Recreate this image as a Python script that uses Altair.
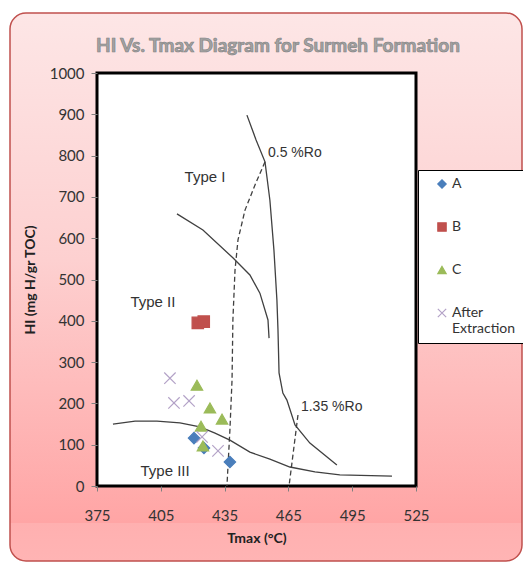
import altair as alt
import pandas as pd

# ---- data ----
SERIES = ["A", "B", "C", "After Extraction"]
A_T = [420.6, 425.3, 437.5]
A_HI = [116, 92, 58]
B_T = [422.4, 425.2]
B_HI = [395, 398]
C_T = [422.0, 428.1, 433.8, 423.9, 424.8]
C_HI = [244, 189, 162, 145, 97]
X_T = [409.3, 411.2, 418.3, 424.4, 431.9]
X_HI = [261, 201, 206, 119, 85]

TYPE1_T = [445.5, 449.8, 454.0, 456.3, 458.2, 459.6, 460.1, 460.6, 462.4, 464.3, 468.1, 475.1, 487.8]
TYPE1_HI = [898, 838, 785, 692, 571, 450, 378, 274, 225, 208, 148, 104, 51]
TYPE2_T = [412.6, 424.8, 439.0, 446.9, 451.6, 455.4, 455.9]
TYPE2_HI = [659, 620, 552, 511, 467, 402, 358]
TYPE3_T = [382.5, 392.9, 403.2, 414.0, 423.4, 430.5, 437.5, 446.9, 456.3, 465.7, 477.5, 489.2, 513.7]
TYPE3_HI = [150, 157, 157, 153, 143, 128, 111, 82, 65, 46, 34, 27, 24]
RO05_T = [454.0, 449.3, 444.6, 441.3, 439.9, 438.9, 438.5, 437.5, 436.1]
RO05_HI = [785, 729, 668, 596, 523, 402, 257, 136, 0]
RO135_T = [469.5, 465.3]
RO135_HI = [172, 0]

TYPE_LABELS = ["Type I", "Type II", "Type III"]
TYPE_LABEL_T = [425.8, 401.3, 407.0]
TYPE_LABEL_HI = [748, 446, 36]
RO_LABELS = ["0.5 %Ro", "1.35 %Ro"]
RO_LABEL_T = [455.4, 470.9]
RO_LABEL_HI = [806, 191]

TITLE = "HI Vs. Tmax Diagram for Surmeh Formation"
X_TICKS = [375, 405, 435, 465, 495, 525]
Y_TICKS = [0, 100, 200, 300, 400, 500, 600, 700, 800, 900, 1000]

COLORS = ["#4a7ebb", "#c0504d", "#9bbb59", "#b3a2c7"]
FILLS = ["#4a7ebb", "#c0504d", "#9bbb59", "transparent"]
SHAPES = ["diamond", "square", "triangle-up", "M-1,-1L1,1M-1,1L1,-1"]

W, H = 319, 413

# ---- tables ----
pts = []
for s, ts, hs in zip(SERIES, [A_T, B_T, C_T, X_T], [A_HI, B_HI, C_HI, X_HI]):
    for t, h in zip(ts, hs):
        pts.append({"series": s, "Tmax": t, "HI": h})
pts = pd.DataFrame(pts)

def curve_df(name, ts, hs):
    return pd.DataFrame({"curve": name, "Tmax": ts, "HI": hs, "i": range(len(ts))})

solid = pd.concat([curve_df("t1", TYPE1_T, TYPE1_HI), curve_df("t2", TYPE2_T, TYPE2_HI),
                   curve_df("t3", TYPE3_T, TYPE3_HI)])
dashed = pd.concat([curve_df("r05", RO05_T, RO05_HI), curve_df("r135", RO135_T, RO135_HI)])
type_lab = pd.DataFrame({"t": TYPE_LABELS, "Tmax": TYPE_LABEL_T, "HI": TYPE_LABEL_HI})
ro_lab = pd.DataFrame({"t": RO_LABELS, "Tmax": RO_LABEL_T, "HI": RO_LABEL_HI})

xs = alt.Scale(domain=[375, 525], nice=False, zero=False)
ys = alt.Scale(domain=[0, 1000], nice=False)
one = pd.DataFrame({"a": [0]})
title_df = pd.DataFrame({"t": [TITLE]})

bg = alt.Chart(one).mark_rect(
    fill={"gradient": "linear", "x1": 0, "y1": 0, "x2": 0, "y2": 1,
          "stops": [{"offset": 0, "color": "#fde6e6"},
                    {"offset": 0.45, "color": "#fdd0d0"},
                    {"offset": 0.93, "color": "#ffa5a5"},
                    {"offset": 0.931, "color": "#ffb0b0"},
                    {"offset": 1, "color": "#ffb4b4"}]},
    stroke="#c0504d", strokeWidth=1.5, cornerRadius=16,
).encode(x=alt.value(-87), x2=alt.value(425), y=alt.value(-60), y2=alt.value(488))

frame = alt.Chart(one).mark_rect(fill="white", stroke="black", strokeWidth=3).encode(
    x=alt.value(0), x2=alt.value(W), y=alt.value(0), y2=alt.value(H))

title_mark = alt.Chart(title_df).mark_text(
    font="Lato", fontSize=19, fontWeight="bold", color="#a3a3a3", stroke="#858585",
    strokeWidth=0.7, align="center", baseline="middle",
).encode(x=alt.value(181), y=alt.value(-27), text="t:N")

xax = alt.X("Tmax:Q", scale=xs, title="Tmax (°C)",
            axis=alt.Axis(values=X_TICKS, grid=False, domain=False, tickSize=5, labelFlush=False,
                          labelPadding=17, titlePadding=8, zindex=2))
yax = alt.Y("HI:Q", scale=ys, title="HI (mg H/gr TOC)",
            axis=alt.Axis(values=Y_TICKS, grid=False, domain=False, tickSize=6, format="d",
                          labelFlush=False, labelPadding=7, titlePadding=12, zindex=2))

lines = alt.Chart(solid).mark_line(color="#404040", strokeWidth=1.3).encode(
    x=xax, y=yax, detail="curve:N", order="i:Q")
dlines = alt.Chart(dashed).mark_line(color="#404040", strokeWidth=1.3, strokeDash=[5, 3]).encode(
    x="Tmax:Q", y="HI:Q", detail="curve:N", order="i:Q")

LEXPR = "datum.label == 'After Extraction' ? ['After', 'Extraction'] : datum.label"
leg = alt.Legend(title=None, zindex=3, labelExpr=LEXPR, orient="none", legendX=321, legendY=97)

points = alt.Chart(pts).mark_point(filled=False, strokeWidth=1.2, size=130, opacity=1).encode(
    x="Tmax:Q", y="HI:Q",
    fill=alt.Fill("series:N", scale=alt.Scale(domain=SERIES, range=FILLS), legend=leg),
    stroke=alt.Stroke("series:N", scale=alt.Scale(domain=SERIES, range=COLORS), legend=leg),
    shape=alt.Shape("series:N", scale=alt.Scale(domain=SERIES, range=SHAPES), legend=leg),
)

tl = alt.Chart(type_lab).mark_text(font="Liberation Sans", fontSize=15, color="#333333").encode(
    x="Tmax:Q", y="HI:Q", text="t:N")
rl = alt.Chart(ro_lab).mark_text(font="Liberation Sans", fontSize=14, color="#333333", align="left").encode(
    x="Tmax:Q", y="HI:Q", text="t:N")

chart = alt.layer(bg, title_mark, frame, lines, dlines, tl, rl, points).properties(
    width=W, height=H,
    autosize=alt.AutoSizeParams(type="none"),
    padding={"left": 97, "top": 73, "right": 107, "bottom": 81},
).configure_view(stroke=None).configure_axis(
    labelFont="Lato", labelFontSize=15, labelColor="#333333", tickColor="#808080",
    titleFont="Lato", titleFontSize=14, titleFontWeight="bold", titleColor="#222222",
).configure_legend(
    fillColor="white", strokeColor="black",
    padding=7, symbolOffset=10, rowPadding=29, labelOffset=3, labelFont="Lato", labelFontSize=14,
    labelColor="#333333", symbolSize=70, symbolStrokeWidth=1.2,
)

chart.save("out.html", embed_options={"renderer": "svg", "actions": False})
